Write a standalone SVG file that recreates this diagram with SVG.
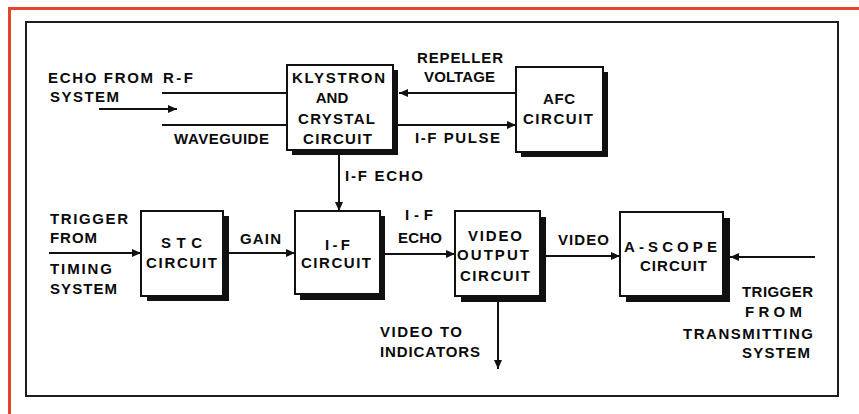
<svg xmlns="http://www.w3.org/2000/svg" width="859" height="414" viewBox="0 0 859 414">
<style>
text{font-family:"Liberation Sans",Arial,sans-serif;font-weight:bold;font-size:15px;fill:#0a0a0a;}
.box{fill:#fff;stroke:#111;stroke-width:2;}
.sh{fill:#111;}
.ln{stroke:#111;stroke-width:2;fill:none;}
</style>
<defs>
<marker id="ah" markerUnits="userSpaceOnUse" markerWidth="10" markerHeight="8" refX="9" refY="4" orient="auto">
<path d="M0,0 L9,4 L0,8 z" fill="#111"/>
</marker>
</defs>
<rect width="859" height="414" fill="#fff"/>
<path d="M9.5,414 V8.5 H859" stroke="#e8442c" stroke-width="3" fill="none"/>
<rect x="26" y="22" width="812" height="374" fill="none" stroke="#1c1c24" stroke-width="2"/>

<g id="connectors">
<line class="ln" x1="99" y1="109" x2="177" y2="109" marker-end="url(#ah)"/>
<line class="ln" x1="162" y1="93" x2="287" y2="93"/>
<line class="ln" x1="162" y1="125" x2="287" y2="125"/>
<line class="ln" x1="516" y1="93" x2="399" y2="93" marker-end="url(#ah)"/>
<line class="ln" x1="398" y1="125" x2="516" y2="125" marker-end="url(#ah)"/>
<line class="ln" x1="339" y1="153" x2="339" y2="211" marker-end="url(#ah)"/>
<line class="ln" x1="49" y1="253" x2="141" y2="253" marker-end="url(#ah)"/>
<line class="ln" x1="229" y1="253" x2="295" y2="253" marker-end="url(#ah)"/>
<line class="ln" x1="385" y1="254" x2="455" y2="254" marker-end="url(#ah)"/>
<line class="ln" x1="546" y1="256" x2="620" y2="256" marker-end="url(#ah)"/>
<line class="ln" x1="815" y1="257" x2="730" y2="257" marker-end="url(#ah)"/>
<line class="ln" x1="498" y1="302" x2="498" y2="369" marker-end="url(#ah)"/>
</g>

<g id="labels">
<text x="48" y="83" textLength="105" lengthAdjust="spacing">ECHO FROM</text>
<text x="163" y="83" textLength="30" lengthAdjust="spacing">R-F</text>
<text x="50" y="102" textLength="69" lengthAdjust="spacing">SYSTEM</text>
<text x="174" y="144" textLength="95" lengthAdjust="spacing">WAVEGUIDE</text>
<text x="417" y="63" textLength="86" lengthAdjust="spacing">REPELLER</text>
<text x="424" y="82" textLength="71" lengthAdjust="spacing">VOLTAGE</text>
<text x="415" y="143" textLength="85" lengthAdjust="spacing">I-F PULSE</text>
<text x="345" y="181" textLength="78" lengthAdjust="spacing">I-F ECHO</text>
<text x="50" y="224" textLength="78" lengthAdjust="spacing">TRIGGER</text>
<text x="50" y="243" textLength="47" lengthAdjust="spacing">FROM</text>
<text x="50" y="274" textLength="62" lengthAdjust="spacing">TIMING</text>
<text x="50" y="294" textLength="67" lengthAdjust="spacing">SYSTEM</text>
<text x="240" y="244" textLength="41" lengthAdjust="spacing">GAIN</text>
<text x="405" y="220" textLength="28" lengthAdjust="spacing">I-F</text>
<text x="398" y="243" textLength="44" lengthAdjust="spacing">ECHO</text>
<text x="558" y="245" textLength="51" lengthAdjust="spacing">VIDEO</text>
<text x="742" y="297" textLength="71" lengthAdjust="spacing">TRIGGER</text>
<text x="745" y="317" textLength="57" lengthAdjust="spacing">FROM</text>
<text x="683" y="339" textLength="130" lengthAdjust="spacing">TRANSMITTING</text>
<text x="742" y="358" textLength="68" lengthAdjust="spacing">SYSTEM</text>
<text x="380" y="337" textLength="82" lengthAdjust="spacing">VIDEO TO</text>
<text x="380" y="357" textLength="100" lengthAdjust="spacing">INDICATORS</text>
</g>

<g id="klystron">
<rect class="sh" x="292" y="70" width="106" height="85"/>
<rect class="box" x="287" y="65" width="106" height="85"/>
<text x="292" y="83" textLength="93" lengthAdjust="spacing">KLYSTRON</text>
<text x="332" y="103" text-anchor="middle">AND</text>
<text x="298" y="124" textLength="77" lengthAdjust="spacing">CRYSTAL</text>
<text x="303" y="144" textLength="69" lengthAdjust="spacing">CIRCUIT</text>
</g>

<g id="afc">
<rect class="sh" x="521" y="72" width="87" height="85"/>
<rect class="box" x="516" y="67" width="87" height="85"/>
<text x="543" y="104" textLength="32" lengthAdjust="spacing">AFC</text>
<text x="523" y="124" textLength="70" lengthAdjust="spacing">CIRCUIT</text>
</g>

<g id="stc">
<rect class="sh" x="147" y="216" width="82" height="85"/>
<rect class="box" x="141" y="211" width="82" height="85"/>
<text x="161" y="248" textLength="41" lengthAdjust="spacing">STC</text>
<text x="146" y="268" textLength="71" lengthAdjust="spacing">CIRCUIT</text>
</g>

<g id="if">
<rect class="sh" x="300" y="216" width="85" height="84"/>
<rect class="box" x="295" y="211" width="85" height="83"/>
<text x="325" y="250" textLength="25" lengthAdjust="spacing">I-F</text>
<text x="301" y="268" textLength="70" lengthAdjust="spacing">CIRCUIT</text>
</g>

<g id="video-output">
<rect class="sh" x="461" y="217" width="85" height="85"/>
<rect class="box" x="455" y="211" width="85" height="85"/>
<text x="468" y="241" textLength="54" lengthAdjust="spacing">VIDEO</text>
<text x="457" y="260" textLength="72" lengthAdjust="spacing">OUTPUT</text>
<text x="460" y="281" textLength="70" lengthAdjust="spacing">CIRCUIT</text>
</g>

<g id="ascope">
<rect class="sh" x="626" y="218" width="104" height="84"/>
<rect class="box" x="620" y="212" width="103" height="84"/>
<text x="624" y="252" textLength="93" lengthAdjust="spacing">A-SCOPE</text>
<text x="640" y="271" textLength="67" lengthAdjust="spacing">CIRCUIT</text>
</g>
</svg>
